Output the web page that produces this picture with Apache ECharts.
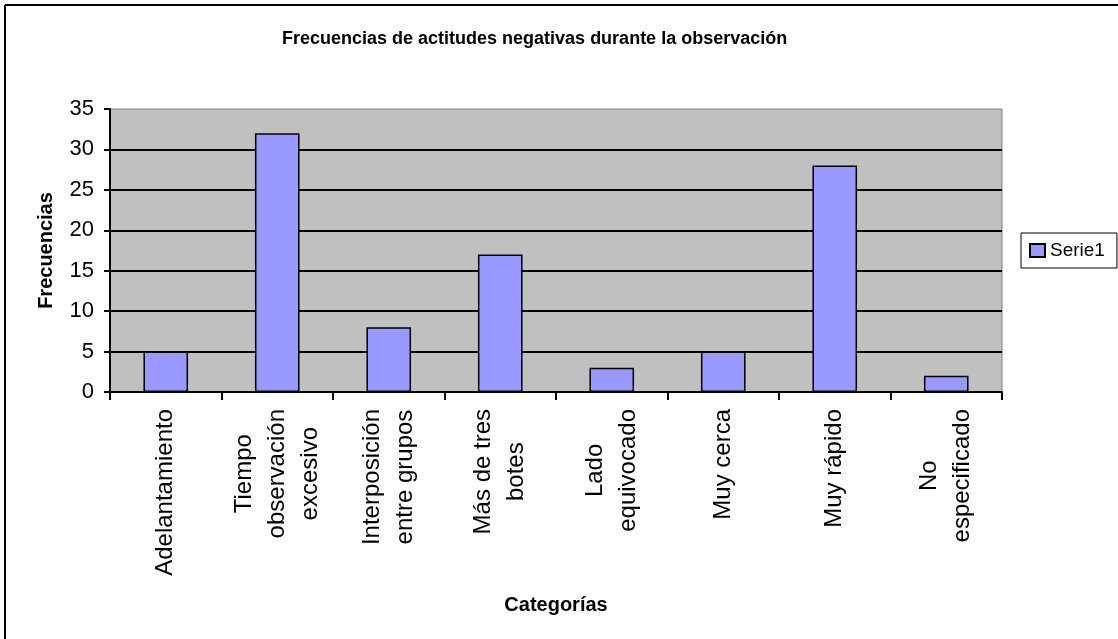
<!DOCTYPE html>
<html>
<head>
<meta charset="utf-8">
<script src="https://cdn.jsdelivr.net/npm/echarts@6/dist/echarts.min.js"></script>
<style>
html,body{margin:0;padding:0;background:#fff;}
#chart{width:1118px;height:639px;}
</style>
</head>
<body>
<div id="chart"></div>
<script>
const titleText = 'Frecuencias de actitudes negativas durante la observación';
const categories = ['Adelantamiento', 'Tiempo\nobservación\nexcesivo', 'Interposición\nentre grupos', 'Más de tres\nbotes', 'Lado\nequivocado', 'Muy cerca', 'Muy rápido', 'No\nespecificado'];
const seriesName = 'Serie1';
const values = [5, 32, 8, 17, 3, 5, 28, 2];
const yTicks = { min: 0, max: 35, interval: 5 };
const xName = 'Categorías';
const yName = 'Frecuencias';

const FONT = "'Liberation Sans', Arial, sans-serif";
const chart = echarts.init(document.getElementById('chart'), null, { renderer: 'canvas' });
chart.setOption({
  animation: false,
  backgroundColor: '#fff',
  title: {
    text: titleText,
    left: 282, top: 30, padding: 0,
    textStyle: { fontFamily: FONT, fontSize: 18, fontWeight: 'bold', color: '#000' }
  },
  legend: {
    data: [seriesName],
    orient: 'vertical',
    left: 1021, top: 233,
    padding: [8, 12, 8, 8],
    backgroundColor: '#fff',
    borderColor: '#000', borderWidth: 1,
    itemWidth: 15, itemHeight: 13,
    icon: 'rect',
    textStyle: { fontFamily: FONT, fontSize: 19, color: '#000' }
  },
  graphic: [
    { type: 'line', shape: { x1: 5, y1: 5, x2: 1118, y2: 5 }, style: { stroke: '#000', lineWidth: 2 }, silent: true },
    { type: 'line', shape: { x1: 5, y1: 5, x2: 5, y2: 639 }, style: { stroke: '#000', lineWidth: 2 }, silent: true }
  ],
  grid: {
    left: 110, top: 109, right: 116, bottom: 247,
    show: true, backgroundColor: '#c0c0c0', borderColor: '#808080', borderWidth: 1
  },
  xAxis: {
    type: 'category',
    data: categories,
    name: xName,
    nameLocation: 'middle',
    nameGap: 203,
    nameTextStyle: { fontFamily: FONT, fontSize: 20, fontWeight: 'bold', color: '#000' },
    axisLine: { lineStyle: { color: '#000', width: 2 } },
    axisTick: { show: true, length: 8, alignWithLabel: false, lineStyle: { color: '#000', width: 2 } },
    axisLabel: {
      rotate: 90, margin: 17, interval: 0,
      fontFamily: FONT, fontSize: 24, color: '#000', lineHeight: 33,
      formatter: function (v) { return v.split('\n').map(s => '{c|' + s + '}').join('\n'); },
      rich: { c: { align: 'center', fontFamily: FONT, fontSize: 24, color: '#000', lineHeight: 33 } }
    }
  },
  yAxis: {
    type: 'value',
    min: yTicks.min, max: yTicks.max, interval: yTicks.interval,
    name: yName,
    nameLocation: 'middle',
    nameGap: 54,
    nameTextStyle: { fontFamily: FONT, fontSize: 20, fontWeight: 'bold', color: '#000' },
    axisLine: { show: true, lineStyle: { color: '#000', width: 2 } },
    axisTick: { show: true, length: 6, lineStyle: { color: '#000', width: 2 } },
    axisLabel: { margin: 16, fontFamily: FONT, fontSize: 22, color: '#000' },
    splitLine: { show: true, showMaxLine: false, lineStyle: { color: '#000', width: 2 } }
  },
  series: [{
    name: seriesName,
    type: 'bar',
    data: values,
    barWidth: '40%',
    itemStyle: { color: '#9999ff', borderColor: '#000', borderWidth: 1.5 }
  }]
});
</script>
</body>
</html>
